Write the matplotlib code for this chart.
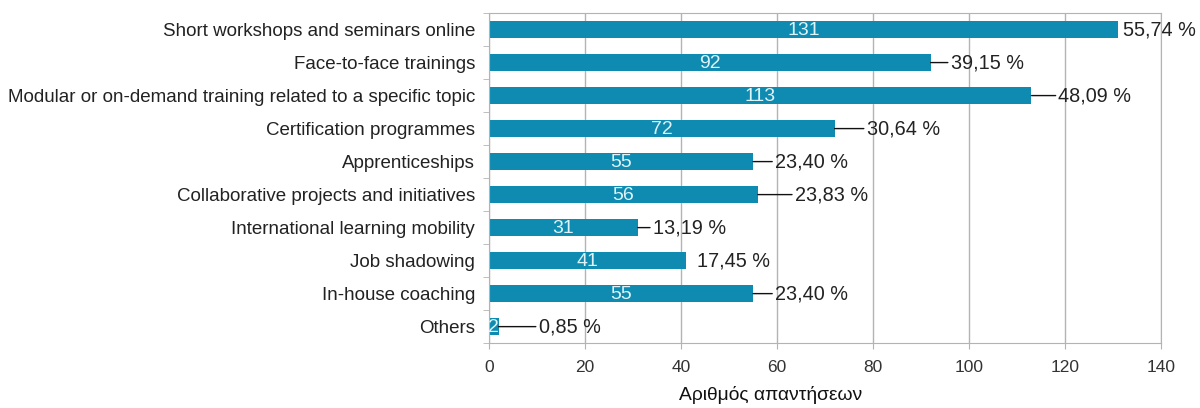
import matplotlib.pyplot as plt
import numpy as np

plt.rcParams['font.family'] = ['Liberation Sans', 'DejaVu Sans']

categories = [
    "Short workshops and seminars online",
    "Face-to-face trainings",
    "Modular or on-demand training related to a specific topic",
    "Certification programmes",
    "Apprenticeships",
    "Collaborative projects and initiatives",
    "International learning mobility",
    "Job shadowing",
    "In-house coaching",
    "Others",
]
counts = [131, 92, 113, 72, 55, 56, 31, 41, 55, 2]
percents = [55.74, 39.15, 48.09, 30.64, 23.40, 23.83, 13.19, 17.45, 23.40, 0.85]
xticks = [0, 20, 40, 60, 80, 100, 120, 140]
xlabel = "Αριθμός απαντήσεων"

# leader line length (pixels) per label, None = plain label next to bar
leader = [None, 20, 27, 32, 22, 37, 15, None, 22, 40]
gap = [5, 0, 0, 0, 0, 0, 0, 11, 0, 0]

bar_color = "#0F8BB2"
grid_color = "#B3B3B3"

fig = plt.figure(figsize=(12, 4.08), dpi=100)
ax = fig.add_axes([0.4075, 0.159, 0.56, 0.809])

y = np.arange(len(categories))
ax.barh(y, counts, height=0.5, color=bar_color, zorder=2)

ax.set_xlim(0, 140)
ax.set_ylim(len(categories) - 0.5, -0.5)
ax.set_xticks(xticks)
ax.set_yticks(y)
ax.set_yticklabels(categories, fontsize=13.5, color="#222222")
ax.set_yticks(np.arange(len(categories) + 1) - 0.5, minor=True)
ax.tick_params(axis="y", which="major", length=0, pad=10)
ax.tick_params(axis="y", which="minor", length=4, color=grid_color)
ax.tick_params(axis="x", length=4, color=grid_color, labelsize=12.5,
               labelcolor="#333333", pad=8)
ax.grid(axis="x", color=grid_color, linewidth=1, zorder=0)
for s in ax.spines.values():
    s.set_color(grid_color)

for i, (c, p) in enumerate(zip(counts, percents)):
    ax.text(c / 2, i + 0.03, str(c), ha="center", va="center", color="#DDF3F8",
            fontsize=14, zorder=3)
    txt = f"{p:.2f}".replace(".", ",") + " %"
    if leader[i] is None:
        ax.annotate(txt, xy=(c, i), xytext=(gap[i], 0), textcoords="offset pixels",
                    ha="left", va="center", fontsize=14.3, color="#222222")
    else:
        ax.annotate(txt, xy=(c, i), xytext=(leader[i], 0), textcoords="offset pixels",
                    ha="left", va="center", fontsize=14.3, color="#222222",
                    arrowprops=dict(arrowstyle="-", color="#111111", lw=1,
                                    shrinkA=0, shrinkB=0))

fig.text(0.642, 0.032, xlabel, ha="center", va="center", fontsize=13.9,
         color="#111111")

fig.savefig("out.png", dpi=100)
